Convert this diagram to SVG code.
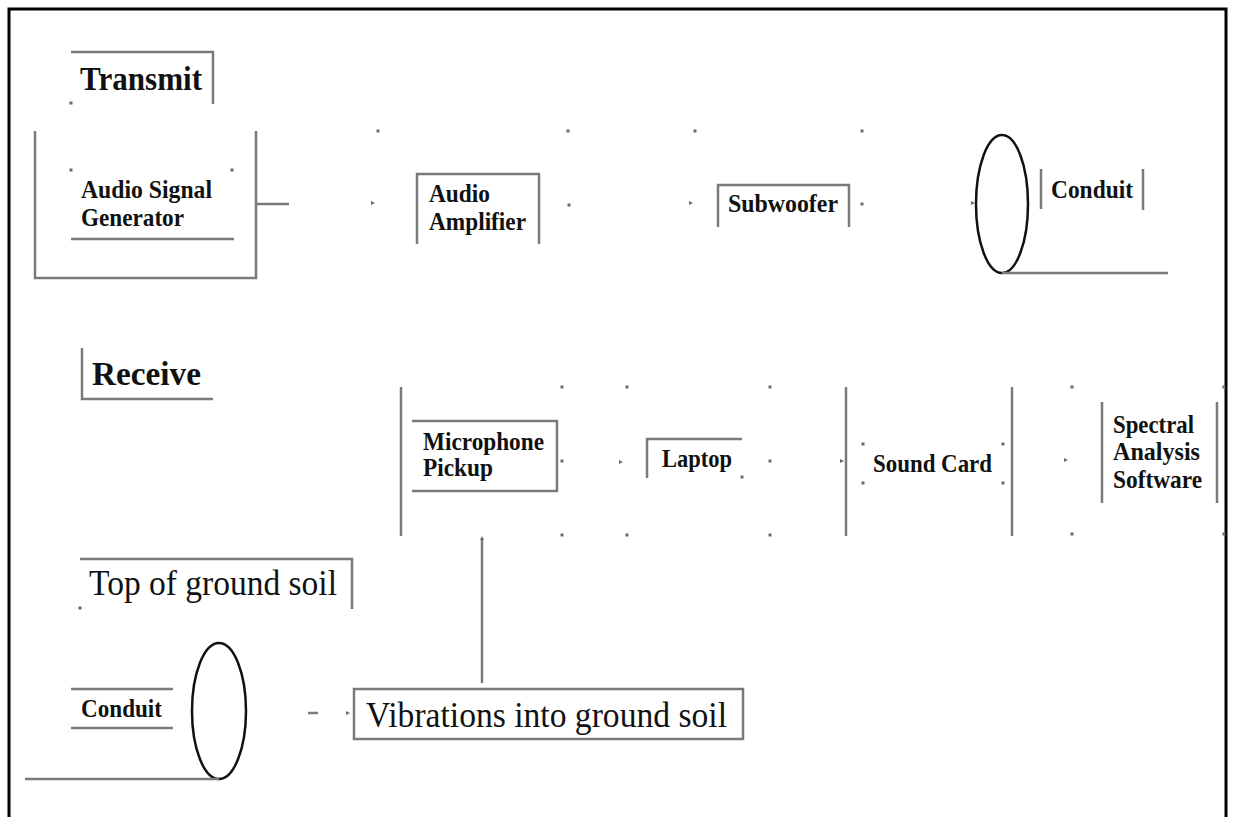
<svg xmlns="http://www.w3.org/2000/svg" xmlns:xlink="http://www.w3.org/1999/xlink" width="1233" height="817" viewBox="0 0 1233 817">
<style>
  .g{fill:none;stroke:#7a7a7a;stroke-width:2.5}
  .e{fill:none;stroke:#111;stroke-width:2.5}
  .s{font-family:"Liberation Serif","Times New Roman",serif;font-weight:bold;font-size:25px;fill:#111}
  .h{font-family:"Liberation Serif","Times New Roman",serif;font-weight:bold;font-size:34px;fill:#111}
  .r{font-family:"Liberation Serif","Times New Roman",serif;font-size:35px;fill:#111}
  .d{fill:#6a6a6a}
</style>
<defs>
  <rect id="dot" x="-1.5" y="-1.5" width="3" height="3" class="d"/>
  <path id="ah" d="M-3,-2 L1,0 L-3,2 Z" class="d"/>
</defs>
<rect width="1233" height="817" fill="#fff"/>
<path d="M9,817 V9 H1226 V817" fill="none" stroke="#000" stroke-width="3"/>

<g id="transmit">
  <path class="g" d="M71,52 H213 V104"/>
  <use xlink:href="#dot" x="71" y="103"/>
  <text class="h" x="80" y="90" textLength="122" lengthAdjust="spacingAndGlyphs">Transmit</text>
</g>

<g id="audio-signal-generator">
  <path class="g" d="M35,131 V278 H256 V131"/>
  <use xlink:href="#dot" x="71" y="170"/>
  <use xlink:href="#dot" x="232" y="170"/>
  <path class="g" d="M71,239 H234"/>
  <text class="s" x="81" y="198" textLength="131" lengthAdjust="spacingAndGlyphs">Audio Signal</text>
  <text class="s" x="81" y="226" textLength="103" lengthAdjust="spacingAndGlyphs">Generator</text>
</g>

<g id="audio-amplifier">
  <path class="g" d="M417,244 V174 H539 V244"/>
  <text class="s" x="429" y="202" textLength="61" lengthAdjust="spacingAndGlyphs">Audio</text>
  <text class="s" x="429" y="230" textLength="97" lengthAdjust="spacingAndGlyphs">Amplifier</text>
</g>

<g id="subwoofer">
  <path class="g" d="M718,227 V185 H849 V227"/>
  <text class="s" x="728" y="212" textLength="110" lengthAdjust="spacingAndGlyphs">Subwoofer</text>
</g>

<g id="conduit-top">
  <ellipse class="e" cx="1002" cy="204" rx="26" ry="69"/>
  <path class="g" d="M1002,273 H1168"/>
  <path class="g" d="M1041,169 V209 M1143,169 V210"/>
  <text class="s" x="1051" y="198" textLength="82" lengthAdjust="spacingAndGlyphs">Conduit</text>
</g>

<g id="receive">
  <path class="g" d="M82,348 V399 H213"/>
  <text class="h" x="92" y="385" textLength="109" lengthAdjust="spacingAndGlyphs">Receive</text>
</g>

<g id="microphone-pickup">
  <path class="g" d="M412,421 H557 V491 H412"/>
  <text class="s" x="423" y="450" textLength="121" lengthAdjust="spacingAndGlyphs">Microphone</text>
  <text class="s" x="423" y="476" textLength="70" lengthAdjust="spacingAndGlyphs">Pickup</text>
</g>

<g id="laptop">
  <path class="g" d="M647,478 V439 H742"/>
  <use xlink:href="#dot" x="742" y="477"/>
  <text class="s" x="662" y="467" textLength="70" lengthAdjust="spacingAndGlyphs">Laptop</text>
</g>

<g id="sound-card">
  <use xlink:href="#dot" x="863" y="444"/>
  <use xlink:href="#dot" x="863" y="483"/>
  <use xlink:href="#dot" x="1003" y="444"/>
  <use xlink:href="#dot" x="1003" y="483"/>
  <text class="s" x="873" y="472" textLength="119" lengthAdjust="spacingAndGlyphs">Sound Card</text>
</g>

<g id="spectral-analysis-software">
  <path class="g" d="M1102,402 V503 M1217,402 V503"/>
  <text class="s" x="1113" y="433" textLength="81" lengthAdjust="spacingAndGlyphs">Spectral</text>
  <text class="s" x="1113" y="460" textLength="87" lengthAdjust="spacingAndGlyphs">Analysis</text>
  <text class="s" x="1113" y="488" textLength="89" lengthAdjust="spacingAndGlyphs">Software</text>
</g>

<g id="top-of-ground-soil">
  <path class="g" d="M80,559 H352 V609"/>
  <use xlink:href="#dot" x="80" y="608"/>
  <text class="r" x="89" y="595" textLength="248" lengthAdjust="spacingAndGlyphs">Top of ground soil</text>
</g>

<g id="conduit-bottom">
  <path class="g" d="M71,689 H173 M71,728 H173"/>
  <text class="s" x="81" y="717" textLength="81" lengthAdjust="spacingAndGlyphs">Conduit</text>
  <ellipse class="e" cx="219" cy="711" rx="27" ry="68"/>
  <path class="g" d="M25,779 H219"/>
</g>

<g id="vibrations-into-ground-soil">
  <rect class="g" x="354" y="689" width="389" height="50"/>
  <text class="r" x="366" y="727" textLength="361" lengthAdjust="spacingAndGlyphs">Vibrations into ground soil</text>
</g>

<g id="connectors">
  <path class="g" d="M256,204 H289"/>
  <path class="g" d="M401,387 V536 M846,387 V536 M1012,387 V536"/>
  <path class="g" d="M482,539 V683"/>
  <path class="g" d="M308,713 H318"/>
  <use xlink:href="#ah" x="374" y="203"/>
  <use xlink:href="#ah" x="692" y="203"/>
  <use xlink:href="#ah" x="974" y="203"/>
  <use xlink:href="#ah" x="622" y="462"/>
  <use xlink:href="#ah" x="843" y="461"/>
  <use xlink:href="#ah" x="1067" y="460"/>
  <use xlink:href="#ah" x="349" y="713"/>
  <use xlink:href="#ah" transform="translate(482,537) rotate(-90)"/>
  <use xlink:href="#dot" x="378" y="131"/>
  <use xlink:href="#dot" x="568" y="131"/>
  <use xlink:href="#dot" x="695" y="131"/>
  <use xlink:href="#dot" x="862" y="131"/>
  <use xlink:href="#dot" x="569" y="205"/>
  <use xlink:href="#dot" x="862" y="204"/>
  <use xlink:href="#dot" x="562" y="387"/>
  <use xlink:href="#dot" x="627" y="387"/>
  <use xlink:href="#dot" x="770" y="387"/>
  <use xlink:href="#dot" x="1072" y="387"/>
  <use xlink:href="#dot" x="1224" y="387"/>
  <use xlink:href="#dot" x="562" y="535"/>
  <use xlink:href="#dot" x="627" y="535"/>
  <use xlink:href="#dot" x="770" y="535"/>
  <use xlink:href="#dot" x="1072" y="534"/>
  <use xlink:href="#dot" x="1224" y="534"/>
  <use xlink:href="#dot" x="562" y="461"/>
  <use xlink:href="#dot" x="770" y="461"/>
</g>
</svg>
